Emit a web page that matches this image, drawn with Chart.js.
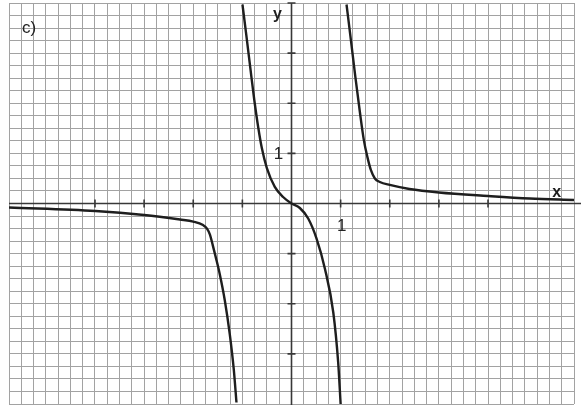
<!DOCTYPE html>
<html>
<head>
<meta charset="utf-8">
<script src="https://cdn.jsdelivr.net/npm/chart.js@4.4.0/dist/chart.umd.min.js"></script>
<style>
  html, body { margin: 0; padding: 0; background: #fff; }
  #wrap { width: 581px; height: 405px; position: relative; }
</style>
</head>
<body>
<div id="wrap"><canvas id="graph"></canvas></div>
<script>
// axis ranges and marks
const xRange = [-5.75, 5.75];
const yRange = [-4, 4];
const gridStep = 0.25;
const xTicks = [-4, -3, -2, -1, 1, 2, 3, 4];
const yTicks = [-3, -2, -1, 1, 2, 3, 4];

// curve, one pair of arrays per branch
const leftX = [-5.75, -3.99, -3.0, -2.27, -2.0, -1.8, -1.72, -1.66, -1.603, -1.542, -1.46, -1.358, -1.256, -1.175, -1.12];
const leftY = [-0.08, -0.15, -0.23, -0.32, -0.36, -0.43, -0.5, -0.62, -0.83, -1.07, -1.41, -1.93, -2.61, -3.31, -3.97];

const midX = [-0.998, -0.921, -0.839, -0.758, -0.676, -0.605, -0.503, -0.34, -0.171, 0, 0.17, 0.34, 0.51, 0.68, 0.85, 0.95, 1.0];
const midY = [3.97, 3.37, 2.71, 2.07, 1.51, 1.11, 0.71, 0.33, 0.13, 0, -0.09, -0.3, -0.7, -1.3, -2.17, -3.17, -4.0];

const rightX = [1.12, 1.208, 1.299, 1.391, 1.472, 1.544, 1.615, 1.697, 1.798, 2.0, 2.4, 3.0, 4.0, 4.85, 5.75];
const rightY = [3.97, 3.27, 2.53, 1.83, 1.27, 0.93, 0.67, 0.5, 0.43, 0.37, 0.29, 0.22, 0.15, 0.1, 0.07];

function toPoints(xs, ys) {
  return xs.map((x, i) => ({ x: x, y: ys[i] }));
}

function branch(xs, ys) {
  return {
    data: toPoints(xs, ys),
    showLine: true,
    borderColor: '#1e1e1e',
    borderWidth: 2.4,
    pointRadius: 0,
    cubicInterpolationMode: 'monotone',
    fill: false
  };
}

// axes with tick marks and the hand lettering
const axesPlugin = {
  id: 'axes',
  beforeDatasetsDraw(chart) {
    const { ctx, chartArea, scales } = chart;
    const x0 = scales.x.getPixelForValue(0);
    const y0 = scales.y.getPixelForValue(0);
    ctx.save();
    ctx.strokeStyle = '#383838';
    ctx.lineWidth = 1.6;
    ctx.beginPath();
    ctx.moveTo(chartArea.left, y0);
    ctx.lineTo(chart.width, y0);
    ctx.moveTo(x0, scales.y.getPixelForValue(4));
    ctx.lineTo(x0, chart.height);
    xTicks.forEach(v => {
      const px = scales.x.getPixelForValue(v);
      ctx.moveTo(px, y0 - 4);
      ctx.lineTo(px, y0 + 4);
    });
    yTicks.forEach(v => {
      const py = scales.y.getPixelForValue(v);
      ctx.moveTo(x0 - 4, py);
      ctx.lineTo(x0 + 4, py);
    });
    ctx.stroke();
    ctx.restore();
  },
  afterDatasetsDraw(chart) {
    const { ctx, scales } = chart;
    const x0 = scales.x.getPixelForValue(0);
    const y0 = scales.y.getPixelForValue(0);
    ctx.save();
    ctx.fillStyle = '#1e1e1e';
    ctx.textBaseline = 'alphabetic';
    ctx.textAlign = 'center';
    ctx.font = 'bold 16px "Liberation Sans", Arial, sans-serif';
    ctx.fillText('y', x0 - 14, 19);
    ctx.fillText('x', scales.x.getPixelForValue(5.4), y0 - 7);
    ctx.fillStyle = '#222';
    ctx.font = '17px "Liberation Sans", Arial, sans-serif';
    ctx.fillText('1', x0 - 13, scales.y.getPixelForValue(1) + 6);
    ctx.fillText('1', scales.x.getPixelForValue(1) + 1, y0 + 27);
    ctx.textAlign = 'left';
    ctx.font = '17px "Liberation Sans", Arial, sans-serif';
    ctx.fillText('c)', 22, 33);
    ctx.restore();
  }
};

const gridLines = {
  color: '#a2a2a2',
  lineWidth: 1,
  drawTicks: false
};

new Chart(document.getElementById('graph'), {
  type: 'scatter',
  data: {
    datasets: [branch(leftX, leftY), branch(midX, midY), branch(rightX, rightY)]
  },
  options: {
    responsive: true,
    maintainAspectRatio: false,
    animation: false,
    layout: { padding: { left: 9, right: 7, top: 3, bottom: 1 } },
    plugins: {
      legend: { display: false },
      tooltip: { enabled: false }
    },
    scales: {
      x: {
        type: 'linear',
        min: xRange[0],
        max: xRange[1],
        border: { display: false },
        grid: gridLines,
        ticks: { display: false, stepSize: gridStep, maxTicksLimit: 100 }
      },
      y: {
        type: 'linear',
        min: yRange[0],
        max: yRange[1],
        border: { display: false },
        grid: gridLines,
        ticks: { display: false, stepSize: gridStep, maxTicksLimit: 100 }
      }
    }
  },
  plugins: [axesPlugin]
});
</script>
</body>
</html>
